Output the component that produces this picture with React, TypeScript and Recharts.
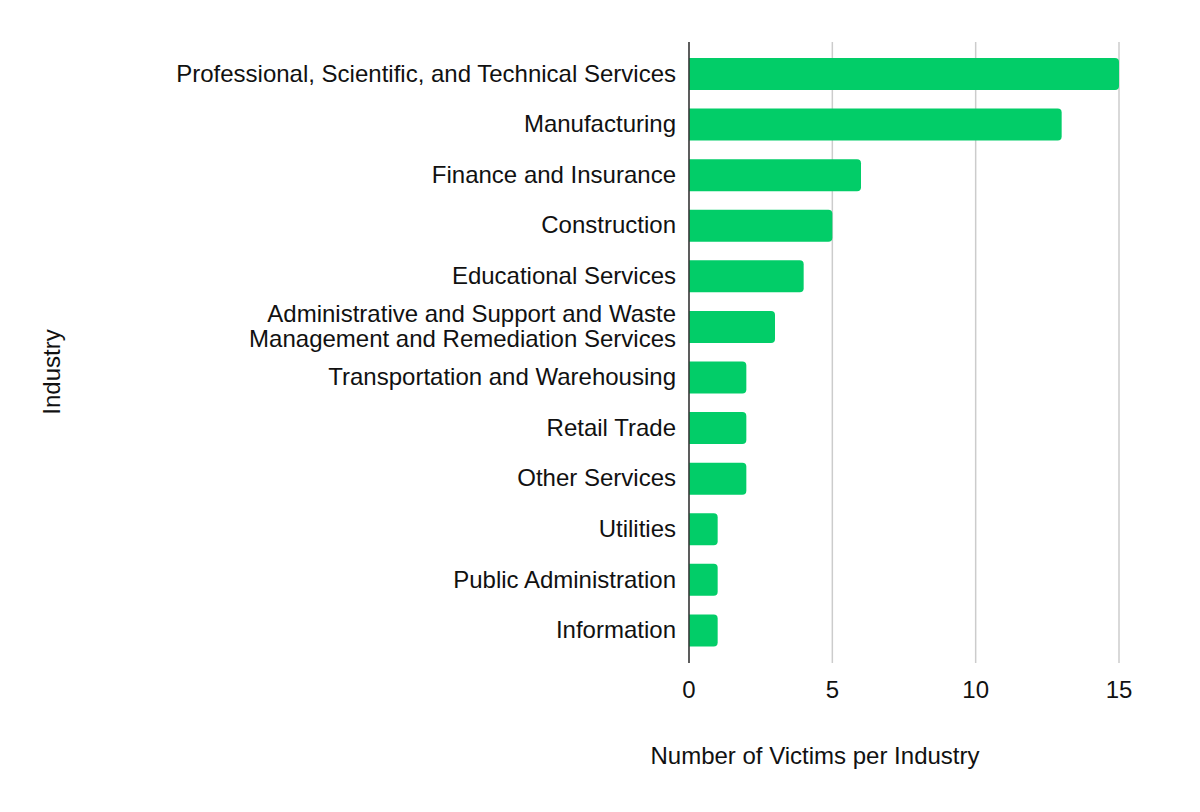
import React from "react";
import { BarChart, Bar, XAxis, YAxis, CartesianGrid, Label } from "recharts";

const industries = [
  "Professional, Scientific, and Technical Services",
  "Manufacturing",
  "Finance and Insurance",
  "Construction",
  "Educational Services",
  "Administrative and Support and Waste|Management and Remediation Services",
  "Transportation and Warehousing",
  "Retail Trade",
  "Other Services",
  "Utilities",
  "Public Administration",
  "Information",
];

const victims = [15, 13, 6, 5, 4, 3, 2, 2, 2, 1, 1, 1];

const xTicks = [0, 5, 10, 15];

const data = industries.map((name, i) => ({ name, value: victims[i] }));

const FONT = "'Liberation Sans', Arial, Helvetica, sans-serif";
const FS = 24;

// multi-line category labels, split on "|"
const IndustryTick = (props: any) => {
  const { x, y, payload } = props;
  const lines = String(payload.value).split("|");
  const lh = 25;
  const start = -((lines.length - 1) * lh) / 2;
  return (
    <text x={x} y={y} textAnchor="end" fontSize={FS} fill="#111" fontFamily={FONT}>
      {lines.map((l: string, i: number) => (
        <tspan key={i} x={x} y={y + start + i * lh - 1} dy="0.35em">
          {l}
        </tspan>
      ))}
    </text>
  );
};

export default function App() {
  return (
    <div style={{ position: "absolute", left: 0, top: 0, background: "#fff" }}>
      <BarChart
        width={1200}
        height={812}
        data={data}
        layout="vertical"
        margin={{ top: 42, right: 81, bottom: 109, left: 0 }}
      >
        <CartesianGrid horizontal={false} stroke="#cccccc" strokeWidth={1.5} />
        <XAxis
          type="number"
          domain={[0, 15]}
          ticks={xTicks}
          axisLine={false}
          tickLine={false}
          tickSize={0}
          tickMargin={18}
          height={40}
          tick={{ fontSize: FS, fill: "#111", fontFamily: FONT }}
        >
          <Label
            content={() => (
              <text x={815} y={756} textAnchor="middle" dy="0.35em" fontSize={FS} fill="#111" fontFamily={FONT}>
                Number of Victims per Industry
              </text>
            )}
          />
        </XAxis>
        <YAxis
          type="category"
          dataKey="name"
          width={689}
          axisLine={{ stroke: "#333333", strokeWidth: 1.5 }}
          tickLine={false}
          tickSize={0}
          tickMargin={13}
          interval={0}
          padding={{ top: 7, bottom: 7 }}
          tick={<IndustryTick />}
        >
          <Label
            content={() => (
              <text
                x={52}
                y={372}
                textAnchor="middle"
                dy="0.35em"
                fontSize={FS}
                fill="#111"
                fontFamily={FONT}
                transform="rotate(-90 52 372)"
              >
                Industry
              </text>
            )}
          />
        </YAxis>
        <Bar dataKey="value" fill="#02cd68" barSize={32} radius={[0, 4, 4, 0]} isAnimationActive={false} />
      </BarChart>
    </div>
  );
}
